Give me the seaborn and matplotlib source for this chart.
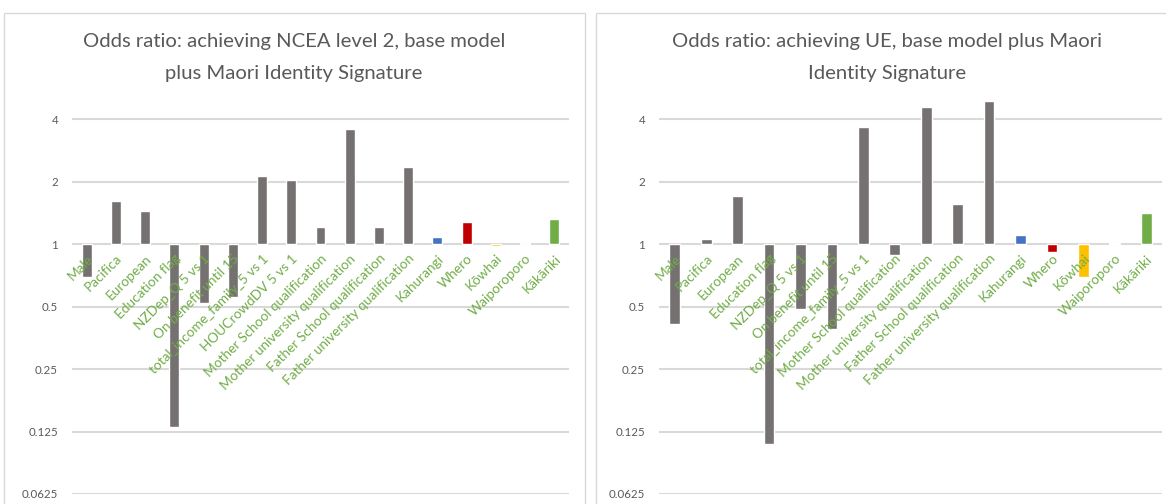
import numpy as np
import pandas as pd
import matplotlib
matplotlib.use("Agg")
import matplotlib.pyplot as plt
from matplotlib.patches import Rectangle
import seaborn as sns

# Odds ratios, NCEA level 2 model
ncea_labels = ["Male", "Pacifica", "European", "Education flag", "NZDep_Q 5 vs 1",
               "On benefit until 15", "total_income_family_5 vs 1", "HOUCrowdDV 5 vs 1",
               "Mother School qualification", "Mother university qualification",
               "Father School qualification", "Father university qualification",
               "Kahurangi", "Whero", "Kōwhai", "Waiporoporo", "Kākāriki"]
ncea_values = [0.69, 1.61, 1.44, 0.132, 0.52, 0.553, 2.13, 2.03, 1.21, 3.58,
               1.21, 2.35, 1.08, 1.28, 0.98, 1.015, 1.32]

# Odds ratios, UE model
ue_labels = ["Male", "Pacifica", "European", "Education flag", "NZDep_Q 5 vs 1",
             "On benefit until 15", "total_income_family_5 vs 1",
             "Mother School qualification", "Mother university qualification",
             "Father School qualification", "Father university qualification",
             "Kahurangi", "Whero", "Kōwhai", "Waiporoporo", "Kākāriki"]
ue_values = [0.41, 1.06, 1.70, 0.109, 0.486, 0.388, 3.66, 0.89, 4.57, 1.56, 4.89,
             1.10, 0.918, 0.69, 1.015, 1.41]

titles = ["Odds ratio: achieving NCEA level 2, base model\nplus Maori Identity Signature",
          "Odds ratio: achieving UE, base model plus Maori\nIdentity Signature"]
tick_values = [0.0625, 0.125, 0.25, 0.5, 1, 2, 4]
tick_labels = ["0.0625", "0.125", "0.25", "0.5", "1", "2", "4"]

GREY = "#767171"
signature_colors = {"Kahurangi": "#4472C4", "Whero": "#C00000", "Kōwhai": "#FFC000",
                    "Waiporoporo": "#7030A0", "Kākāriki": "#70AD47"}

sns.set_theme(style="white")
plt.rcParams["font.family"] = ["Lato", "DejaVu Sans"]

fig = plt.figure(figsize=(11.66, 5.04), dpi=100)

# chart panels with thin light borders
for x0, w in [(4, 581), (596, 575)]:
    fig.add_artist(Rectangle((x0 / 1166, -0.02), w / 1166, (504 - 13) / 504 + 0.02,
                             transform=fig.transFigure, fill=False,
                             edgecolor="#D9D9D9", linewidth=1.0))

axes_px = [(72, 569), (659, 1162)]
title_cx = [294, 887]
datasets = [(ncea_labels, ncea_values), (ue_labels, ue_values)]

ymin = np.log2(0.0625)
ymax = np.log2(5.22)
bottom_px, top_px = 494, 95

for (x0, x1), cx, (labels, values), title in zip(axes_px, title_cx, datasets, titles):
    ax = fig.add_axes([x0 / 1166, (504 - bottom_px) / 504,
                       (x1 - x0) / 1166, (bottom_px - top_px) / 504])
    df = pd.DataFrame({"label": labels, "log_or": np.log2(values)})
    palette = {lab: signature_colors.get(lab, GREY) for lab in labels}
    sns.barplot(data=df, x="label", y="log_or", hue="label", palette=palette,
                legend=False, width=0.34, saturation=1, ax=ax, zorder=2)
    ax.set_ylim(ymin, ymax)
    ax.set_xlim(-0.5, len(labels) - 0.5)
    ax.set_yticks(np.log2(tick_values))
    ax.set_yticklabels(tick_labels)
    # gridlines behind the bars, category labels in front of them
    ax.grid(False)
    for t in np.log2(tick_values):
        ax.axhline(t, color="#D9D9D9", linewidth=1.5, zorder=0.5)
    ax.set_axisbelow(False)
    for s in ax.spines.values():
        s.set_visible(False)
    # category axis crosses at an odds ratio of 1
    ax.spines["bottom"].set_position(("data", 0))
    ax.tick_params(axis="y", length=0, labelsize=8.3, labelcolor="#595959", pad=10)
    ax.tick_params(axis="x", length=0, labelsize=9.8, labelcolor="#70AD47", pad=6)
    for lab in ax.get_xticklabels():
        lab.set_rotation(45)
        lab.set_ha("right")
        lab.set_rotation_mode("anchor")
        lab.set_zorder(5)
    ax.set_xlabel("")
    ax.set_ylabel("")
    fig.text(cx / 1166, 1 - 33 / 504, title, ha="center", va="top",
             fontsize=14.6, color="#595959", linespacing=2.05)

fig.savefig("out.png", dpi=100, facecolor="white")
